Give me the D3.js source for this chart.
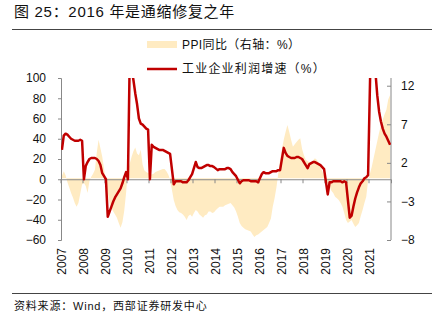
<!DOCTYPE html>
<html><head><meta charset="utf-8">
<script src="https://cdn.jsdelivr.net/npm/d3@7"></script>
<style>
html,body{margin:0;padding:0;background:#fff;}
text{font-family:"Liberation Sans",Arial,"Noto Sans CJK SC",sans-serif;}
</style></head>
<body><svg id="c" width="434" height="325"></svg>
<script>
const years = ["2007","2008","2009","2010","2011","2012","2013","2014","2015","2016","2017","2018","2019","2020","2021"];
const leftTicks = [-60,-40,-20,0,20,40,60,80,100];
const rightTicks = [-8,-3,2,7,12];
const seriesNames = ["PPI同比（右轴：%）","工业企业利润增速（%）"];
// PPI YoY (right axis), monthly Jan 2007 .. Dec 2021
const ppi = [
 0.3, 0.9, 0.4,-0.5,-1.2,-1.9,-2.5,-3.2,-3.7,-3.2,-2.0,-0.8,
-0.6,-1.0,-1.9,-0.4, 0.2, 0.6, 1.1, 3.3, 5.0, 3.9, 2.8, 1.2,
-0.3,-1.8,-3.2,-3.8,-4.3,-4.7,-5.1,-5.8,-6.4,-5.7,-4.2,-1.9,
 1.0, 1.9, 2.8, 3.5, 4.0, 3.2, 3.0, 3.7, 1.8, 1.0, 0.8, 0.7,
 0.6, 0.5, 0.6, 0.8, 0.9, 1.0, 1.1, 1.2, 1.2, 0.9, 0.5,-0.2,
-1.5,-2.8,-3.6,-4.1,-4.4,-4.5,-4.7,-5.0,-5.4,-4.9,-4.7,-5.0,
-4.5,-4.1,-4.3,-4.7,-4.9,-5.1,-4.8,-4.7,-4.3,-4.3,-4.5,-4.4,
-4.1,-3.9,-3.7,-3.7,-3.7,-3.5,-3.4,-3.3,-3.2,-3.5,-3.8,-4.3,
-5.0,-5.8,-6.2,-6.4,-6.6,-6.7,-6.8,-6.9,-7.3,-7.6,-7.4,-7.3,
-7.1,-6.9,-6.7,-6.5,-6.3,-5.8,-5.2,-3.7,-2.6,-1.2, 0.6, 2.4,
 3.8, 5.0, 6.0, 6.9, 6.0, 5.0, 4.1, 4.4, 4.7, 5.0, 5.2, 3.8,
 3.0, 2.4, 2.2, 2.1, 2.0, 2.3, 2.6, 2.4, 2.0, 1.5, 0.9, 0.3,
-0.2,-0.7,-1.1,-1.6,-1.9,-2.4,-2.6,-2.8,-3.2,-3.7,-4.5,-5.4,
-5.8,-5.6,-5.4,-5.9,-6.3,-6.1,-5.8,-4.9,-4.1,-3.2,-2.4,-0.3,
 0.6, 1.5, 2.6, 3.7, 4.8, 5.9, 6.8, 7.6, 8.3, 8.9,10.2,10.8
];
// Industrial profit cumulative growth (left axis), monthly Jan 2007 .. Dec 2021 (null = no January data)
const profit = [
  29,  43,  45,  44,  42,  40,  39,  38,  38,  38,  39,  38,
   0,  13,  17,  20,  21,  21,  21,  20,  18,  14,   6,   3,
   0, -37, -32, -27, -22, -18, -15, -12,  -9,  -4,   2,   7,
   0, 120, 110,  98,  85,  74,  60,  55,  54,  52,  50,  49,
   0,  34,  32,  31,  30,  29,  29,  29,  28,  27,  26,  25,
null, -5,  -2,  -2,  -2,  -2,  -3,  -3,  -3,  -1,   2,   5,
null, 17,  12,  11,  11,  12,  13,  14,  14,  13,  13,  12,
null,  9,  10,  10,  10,  10,  11,  11,  10,   7,   5,   3,
null, -4,  -2,  -1,  -1,  -1,  -1,  -2,  -2,  -2,  -2,  -3,
null,  5,   7,   6,   6,   6,   7,   8,   8,   8,   9,   9,
null, 31,  26,  23,  22,  21,  21,  21,  22,  22,  21,  20,
null, 14,  11,  15,  16,  17,  17,  16,  15,  14,  12,  10,
null,-15,  -3,  -3,  -2,  -2,  -2,  -2,  -2,  -3,  -2,  -3,
null,-38, -36, -27, -19, -13,  -8,  -4,  -2,   1,   2,   4,
null,179, 137, 106,  83,  67,  57,  50,  45,  42,  38,  34
];

const svg = d3.select("#c");
const L = 61, R = 391, T = 78, B = 240;
const n = ppi.length;

const x = d3.scaleBand().domain(d3.range(n)).range([L, R]).paddingInner(0).paddingOuter(0);
const xc = i => x(i) + x.bandwidth()/2;
const yL = d3.scaleLinear().domain([-60, 100]).range([B, T]);
const yR = d3.scaleLinear().domain([-8, 13]).range([B, T]);

// title
svg.append("text").attr("x", 14).attr("y", 17).attr("font-size", 15).attr("fill", "#111")
  .attr("letter-spacing", 0.7)
  .text("图 25：2016 年是通缩修复之年");
svg.append("line").attr("x1", 12).attr("x2", 432).attr("y1", 29.5).attr("y2", 29.5)
  .attr("stroke", "#444").attr("stroke-width", 1);

// footer
svg.append("line").attr("x1", 12).attr("x2", 432).attr("y1", 293.5).attr("y2", 293.5)
  .attr("stroke", "#444").attr("stroke-width", 1);
svg.append("text").attr("x", 14).attr("y", 310).attr("font-size", 11).attr("fill", "#111")
  .attr("letter-spacing", 0.8)
  .text("资料来源：Wind，西部证券研发中心");

svg.append("defs").append("clipPath").attr("id", "pc")
  .append("rect").attr("x", L).attr("y", T).attr("width", R - L).attr("height", B - T);

// PPI area
const area = d3.area().x((d, i) => xc(i)).y0(yR(0)).y1(d => yR(d));
svg.append("path").datum(ppi).attr("d", area).attr("fill", "#FFEBC2").attr("clip-path", "url(#pc)");

// zero / category axis
const xAxis = d3.axisBottom(x).tickValues(d3.range(0, n, 12)).tickSize(4).tickFormat("");
const gx = svg.append("g").attr("transform", `translate(0,${yL(0)})`).call(xAxis);
gx.select(".domain").attr("stroke", "#888");
gx.selectAll(".tick line").attr("stroke", "#888")
  .attr("transform", `translate(${-x.bandwidth()/2},0)`);

// year labels at bottom
svg.append("g").selectAll("text").data(years).join("text")
  .attr("transform", (d, k) => `translate(${xc(k*12)},${B + 8}) rotate(-90)`)
  .attr("text-anchor", "end").attr("dy", "0.35em").attr("font-size", 12).attr("fill", "#111")
  .text(d => d);

// left axis
const gl = svg.append("g").attr("transform", `translate(${L},0)`)
  .call(d3.axisLeft(yL).tickValues(leftTicks).tickSize(3).tickPadding(12));
gl.select(".domain").attr("stroke", "#888");
gl.selectAll(".tick line").attr("stroke", "#888");
gl.selectAll(".tick text").attr("font-size", 12).attr("fill", "#111")
  .attr("font-family", "Liberation Sans, Arial, sans-serif");

// right axis (ticks inward)
const gr = svg.append("g").attr("transform", `translate(${R},0)`)
  .call(d3.axisRight(yR).tickValues(rightTicks).tickSize(0).tickPadding(10));
gr.select(".domain").attr("stroke", "#888").attr("d", `M0,${T}V${B}`);
gr.selectAll(".tick").append("line").attr("x1", -4).attr("x2", 0).attr("stroke", "#888");
gr.selectAll(".tick text").attr("font-size", 12).attr("fill", "#111")
  .attr("font-family", "Liberation Sans, Arial, sans-serif");

// profit line
const pts = profit.map((v, i) => ({i, v})).filter(d => d.v !== null);
const line = d3.line().x(d => xc(d.i)).y(d => yL(d.v));
svg.append("path").datum(pts).attr("d", line).attr("fill", "none")
  .attr("stroke", "#C00000").attr("stroke-width", 2.5).attr("stroke-linejoin", "round")
  .attr("clip-path", "url(#pc)");

// legend
const lg = svg.append("g");
lg.append("rect").attr("x", 147).attr("y", 41).attr("width", 30).attr("height", 7).attr("fill", "#FFEBC2");
lg.append("text").attr("x", 182).attr("y", 49).attr("font-size", 12).attr("fill", "#111")
  .attr("letter-spacing", 0.4).text(seriesNames[0]);
lg.append("line").attr("x1", 147).attr("x2", 177).attr("y1", 69).attr("y2", 69)
  .attr("stroke", "#C00000").attr("stroke-width", 2.5);
lg.append("text").attr("x", 182).attr("y", 73).attr("font-size", 12).attr("fill", "#111")
  .attr("letter-spacing", 1.2).text(seriesNames[1]);
</script></body></html>
